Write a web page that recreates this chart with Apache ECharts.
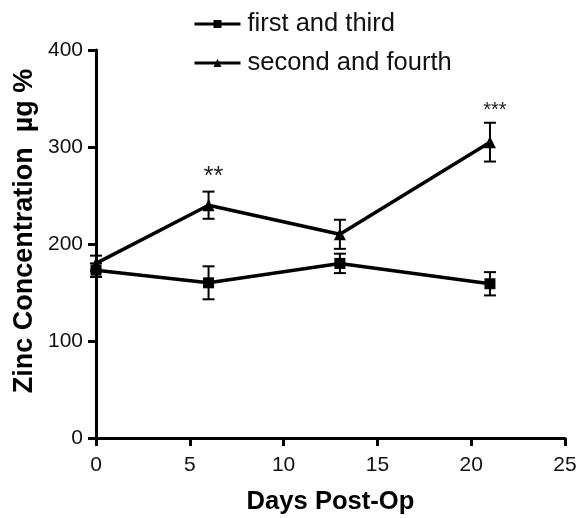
<!DOCTYPE html>
<html>
<head>
<meta charset="utf-8">
<script src="https://cdn.jsdelivr.net/npm/echarts@6/dist/echarts.min.js"></script>
<style>html,body{margin:0;padding:0;background:#fff}#c{width:578px;height:518px}</style>
</head>
<body>
<div id="c"></div>
<script>
var days = [0, 6, 13, 21];
var firstThird = [173, 160, 180, 159];
var firstThirdErr = [7, 17, 10, 12];
var secondFourth = [180, 240, 210, 305];
var secondFourthErr = [8, 14, 15, 20];
var sigDays = [6, 21];
var sigTop = [254, 325];
var sigText = ['**', '***'];
var xTicks = [0, 5, 10, 15, 20, 25];
var yTicks = [0, 100, 200, 300, 400];

var FONT = '"Liberation Sans", Arial, sans-serif';
var sigFontSize = [25, 20];

function errData(m, e) {
  return days.map(function (d, i) { return [d, m[i] - e[i], m[i] + e[i]]; });
}
function errRender(params, api) {
  var x = api.value(0);
  var lo = api.coord([x, api.value(1)]);
  var hi = api.coord([x, api.value(2)]);
  var w = 6;
  var st = { stroke: '#000', lineWidth: 2 };
  return {
    type: 'group',
    children: [
      { type: 'line', shape: { x1: hi[0], y1: hi[1], x2: lo[0], y2: lo[1] }, style: st },
      { type: 'line', shape: { x1: hi[0] - w, y1: hi[1], x2: hi[0] + w, y2: hi[1] }, style: st },
      { type: 'line', shape: { x1: lo[0] - w, y1: lo[1], x2: lo[0] + w, y2: lo[1] }, style: st }
    ]
  };
}

var chart = echarts.init(document.getElementById('c'), null, { renderer: 'canvas' });
chart.setOption({
  animation: false,
  backgroundColor: '#fff',
  textStyle: { fontFamily: FONT },
  legend: {
    orient: 'vertical',
    left: 188,
    top: 6,
    itemWidth: 46,
    itemHeight: 10,
    itemGap: 13,
    lineStyle: { width: 3 },
    textStyle: { fontSize: 25.5, color: '#111', fontFamily: FONT, padding: [0, 0, 0, 2] },
    data: ['first and third', 'second and fourth']
  },
  graphic: [{
    type: 'text',
    x: 25, y: 231, rotation: Math.PI / 2,
    style: {
      text: 'Zinc Concentration  \u00b5g %',
      align: 'center', verticalAlign: 'middle',
      fontSize: 27, fontWeight: 'bold', fill: '#000', fontFamily: FONT
    }
  }],
  grid: { left: 96, right: 13, top: 50, bottom: 80, containLabel: false, outerBoundsMode: 'none' },
  xAxis: {
    type: 'value', min: 0, max: 25, interval: 5,
    name: 'Days Post-Op', nameLocation: 'middle', nameGap: 51,
    nameTextStyle: { fontSize: 25.6, fontWeight: 'bold', color: '#000', fontFamily: FONT },
    axisLine: { show: true, onZero: false, lineStyle: { color: '#000', width: 3 } },
    axisTick: { show: true, length: 8, lineStyle: { color: '#000', width: 3 } },
    axisLabel: { fontSize: 21, color: '#111', margin: 17, fontFamily: FONT,
      formatter: function (v) { return xTicks.indexOf(v) >= 0 ? String(v) : ''; } },
    splitLine: { show: false }
  },
  yAxis: {
    type: 'value', min: 0, max: 400, interval: 100,
    axisLine: { show: true, onZero: false, lineStyle: { color: '#000', width: 3 } },
    axisTick: { show: true, length: 8, lineStyle: { color: '#000', width: 3 } },
    axisLabel: { fontSize: 21, color: '#111', margin: 13, fontFamily: FONT,
      formatter: function (v) { return yTicks.indexOf(v) >= 0 ? String(v) : ''; } },
    splitLine: { show: false }
  },
  series: [
    {
      name: 'first and third', type: 'line',
      data: days.map(function (d, i) { return [d, firstThird[i]]; }),
      symbol: 'rect', symbolSize: 11,
      lineStyle: { color: '#000', width: 3.5 },
      itemStyle: { color: '#000' }, z: 3
    },
    {
      name: 'second and fourth', type: 'line',
      data: days.map(function (d, i) { return [d, secondFourth[i]]; }),
      symbol: 'triangle', symbolSize: 12,
      lineStyle: { color: '#000', width: 3.5 },
      itemStyle: { color: '#000' }, z: 3
    },
    { type: 'custom', renderItem: errRender, data: errData(firstThird, firstThirdErr), z: 2, silent: true },
    { type: 'custom', renderItem: errRender, data: errData(secondFourth, secondFourthErr), z: 2, silent: true },
    {
      type: 'custom', silent: true, z: 4,
      data: sigDays.map(function (d, i) { return [d, sigTop[i]]; }),
      renderItem: function (params, api) {
        var p = api.coord([api.value(0), api.value(1)]);
        return {
          type: 'text',
          style: {
            text: sigText[params.dataIndex], x: p[0] + 5, y: p[1] - 2,
            align: 'center', verticalAlign: 'bottom',
            fontSize: sigFontSize[params.dataIndex], fontFamily: FONT, fill: '#222'
          }
        };
      }
    }
  ]
});
</script>
</body>
</html>
